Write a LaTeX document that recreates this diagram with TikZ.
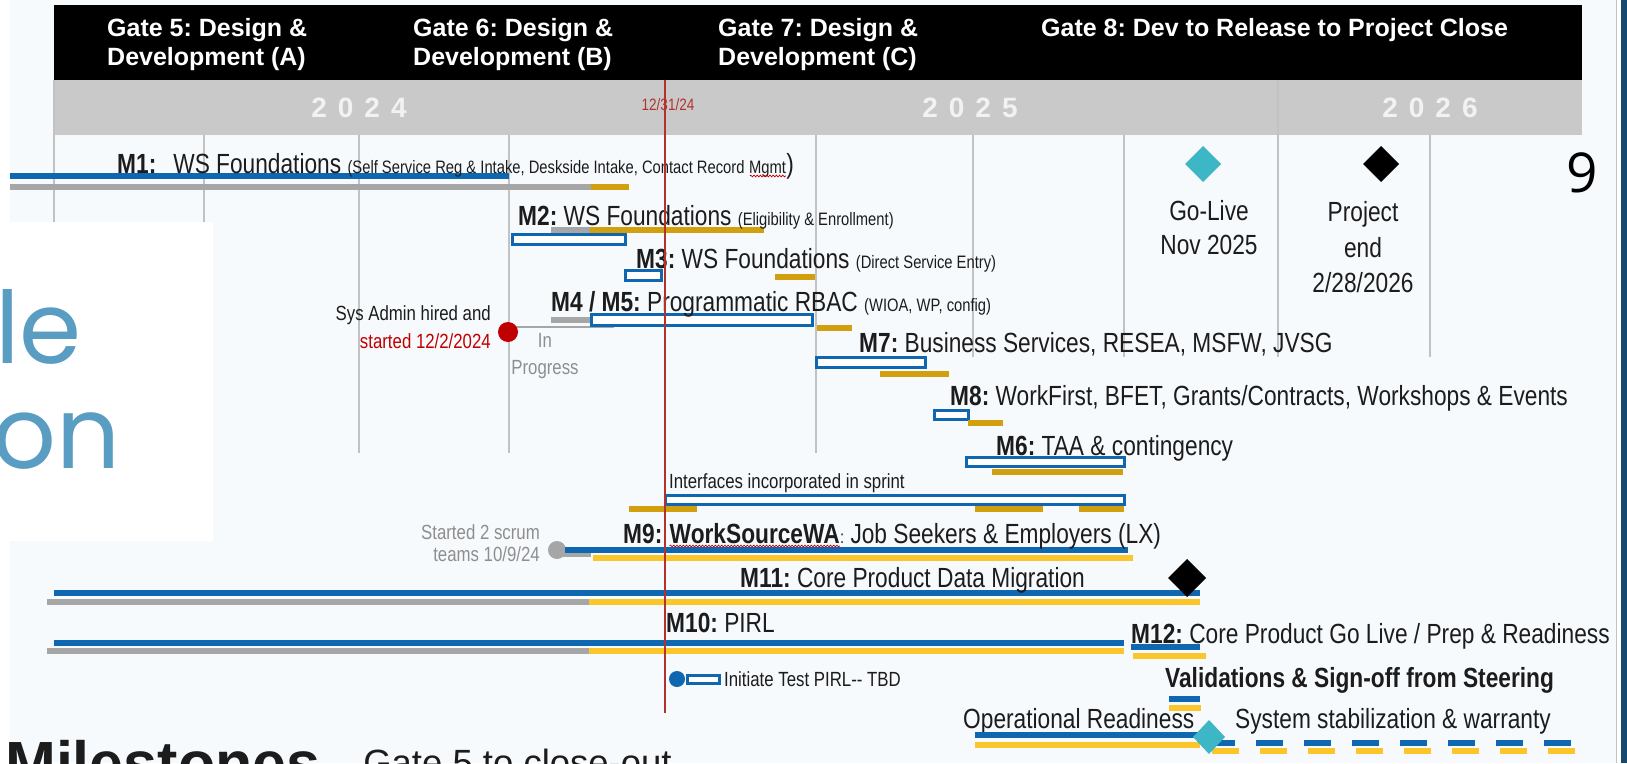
\documentclass[tikz,border=0pt]{standalone}
\usepackage{fontspec}
\setmainfont{Liberation Sans}
\newfontfamily\nar[FakeStretch=0.82]{Liberation Sans}
\newfontfamily\geo{Poppins}
\newfontfamily\osans{Open Sans}
\usetikzlibrary{decorations.pathmorphing}
\newcommand\fsz[1]{\fontsize{#1pt}{#1pt}\selectfont}

\definecolor{pagebg}{HTML}{F7FAFD}
\definecolor{bandgrey}{HTML}{C9C9C9}
\definecolor{gridgrey}{HTML}{C2C2C2}
\definecolor{barblue}{HTML}{0F67B1}
\definecolor{barmustard}{HTML}{D2A00E}
\definecolor{baryellow}{HTML}{FBC52C}
\definecolor{bargrey}{HTML}{A6A6A6}
\definecolor{todayred}{HTML}{B3322B}
\definecolor{dotred}{HTML}{C00000}
\definecolor{golive}{HTML}{3DB7C6}
\definecolor{titleblue}{HTML}{5A9DC3}
\definecolor{navy}{HTML}{17496F}
\definecolor{labelgrey}{HTML}{8E8E8E}
\definecolor{ink}{HTML}{1C1C1C}

\begin{document}
\frenchspacing
\begin{tikzpicture}[x=1pt, y=-1pt,
  bar/.style={line width=5.5pt},
  thickbar/.style={line width=6.5pt},
  box/.style={draw=barblue, line width=3pt, fill=white},
  grid/.style={draw=gridgrey, line width=1.2pt},
  lbl/.style={inner sep=0pt, anchor=base west, text=ink, font=\nar\fsz{27.7}},
  small/.style={inner sep=0pt, text=ink, font=\nar\fsz{20.5}},
  gate/.style={inner sep=0pt, anchor=base west, text=white, font=\bfseries\fsz{25}},
  year/.style={inner sep=0pt, anchor=base, text=white!95!black, font=\bfseries\fsz{28}},
  squig/.style={draw=dotred, line width=0.7pt, decorate,
    decoration={snake, amplitude=0.9pt, segment length=3.2pt}}]

\useasboundingbox (0,0) rectangle (1627,763);
\clip (0,0) rectangle (1627,763);

% slide background and right-hand border
\fill[pagebg] (0,0) rectangle (1616,763);
\fill[white] (0,0) rectangle (10,763);
\fill[white] (1616,0) rectangle (1621,763);
\fill[navy] (1621,0) rectangle (1627,763);
\draw[gridgrey, line width=1pt] (1616,0) -- (1616,763);

% gate header and year band
\fill[black] (54,5) rectangle (1582,80);
\fill[bandgrey] (54,80) rectangle (1582,135);

\node[gate] (g5a) at (107,36) {Gate 5: Design \&};
\node[gate] (g5b) at (107,65) {Development (A)};
\node[gate] (g6a) at (413,36) {Gate 6: Design \&};
\node[gate] (g6b) at (413,65) {Development (B)};
\node[gate] (g7a) at (718,36) {Gate 7: Design \&};
\node[gate] (g7b) at (718,65) {Development (C)};
\node[gate] (g8)  at (1041,36) {Gate 8: Dev to Release to Project Close};

\node[year] (y24) at (359,117) {2\hspace{11pt}0\hspace{11pt}2\hspace{11pt}4};
\node[year] (y25) at (970,117) {2\hspace{11pt}0\hspace{11pt}2\hspace{11pt}5};
\node[year] (y26) at (1430,117) {2\hspace{11pt}0\hspace{11pt}2\hspace{11pt}6};

% month grid
\foreach \x/\a/\b in {54/80/222, 204/135/222, 359/135/453, 509/135/453,
  816/135/453, 973/135/357, 1124/135/357, 1278/80/357, 1430/135/357}
  \draw[grid] (\x,\a) -- (\x,\b);

% slide title box
\fill[white] (0,222) rectangle (213,541);
\node[inner sep=0pt, anchor=base west, text=titleblue, font=\geo\fsz{100}] (t1) at (-5,363) {le};
\node[inner sep=0pt, anchor=base west, text=titleblue, font=\geo\fsz{100}] (t2) at (-8,468) {on};

% M1
\draw[bar, barblue] (10,176) -- (509,176);
\draw[thickbar, bargrey] (10,187) -- (591,187);
\draw[thickbar, barmustard] (591,187) -- (629,187);
\node[lbl] (m1) at (117,173) {{\bfseries M1:}\hspace{17pt}WS Foundations {\fsz{18}(Self Service Reg \& Intake, Deskside Intake, Contact Record}};
\node[lbl, font=\nar\fsz{18}] (m1w) at (m1.base east) {\kern4pt Mgmt};
\node[lbl] (m1c) at (m1w.base east) {)};
\draw[squig] ([xshift=5pt, yshift=-3pt]m1w.base west) -- ([yshift=-3pt]m1w.base east);

% M2
\draw[thickbar, bargrey] (551,230) -- (590,230);
\draw[thickbar, barmustard] (590,230) -- (764,230);
\draw[box] (512,234) rectangle (625,244);
\node[lbl] (m2) at (518,225) {{\bfseries M2:} WS Foundations {\fsz{18}(Eligibility \& Enrollment)}};

% M3
\draw[box] (625,270) rectangle (661,280);
\draw[thickbar, barmustard] (775,277) -- (815,277);
\node[lbl] (m3) at (636,268) {{\bfseries M3:} WS Foundations {\fsz{18}(Direct Service Entry)}};

% M4 / M5
\draw[thickbar, bargrey] (551,320) -- (590,320);
\draw[line width=2.5pt, bargrey] (509,327) -- (614,327);
\draw[box] (591,314) rectangle (812,325);
\draw[thickbar, barmustard] (817,328) -- (852,328);
\fill[dotred] (508,332) circle (10);
\node[lbl] (m45) at (551,311) {{\bfseries M4 / M5:} Programmatic RBAC {\fsz{18}(WIOA, WP, config)}};
\node[small, anchor=base east] (sa1) at (491,320.5) {Sys Admin hired and};
\node[small, anchor=base east, text=dotred] (sa2) at (491,348.5) {started 12/2/2024};
\node[small, anchor=base, text=labelgrey] (ip1) at (545,347.5) {In};
\node[small, anchor=base, text=labelgrey] (ip2) at (545,374.5) {Progress};

% M7
\draw[box] (816,357) rectangle (925,367);
\draw[thickbar, barmustard] (880,374) -- (949,374);
\node[lbl] (m7) at (859,352) {{\bfseries M7:} Business Services, RESEA, MSFW, JVSG};

% M8
\draw[box] (934,410) rectangle (968,419);
\draw[thickbar, barmustard] (968,423) -- (1003,423);
\node[lbl] (m8) at (950,405) {{\bfseries M8:} WorkFirst, BFET, Grants/Contracts, Workshops \& Events};

% M6
\draw[box] (966,457) rectangle (1124,466);
\draw[thickbar, barmustard] (992,472) -- (1123,472);
\node[lbl] (m6) at (996,455) {{\bfseries M6:} TAA \& contingency};

% interfaces
\draw[box] (665,495) rectangle (1124,504);
\draw[thickbar, barmustard] (629,509) -- (697,509);
\draw[thickbar, barmustard] (975,509) -- (1043,509);
\draw[thickbar, barmustard] (1079,509) -- (1124,509);
\node[small, anchor=base west] (itf) at (669,488.5) {Interfaces incorporated in sprint};

% M9
\draw[thickbar, bargrey] (557,554) -- (591,554);
\fill[bargrey] (557,550) circle (9);
\draw[bar, barblue] (565,550) -- (1128,550);
\draw[bar, baryellow] (593,558) -- (1133,558);
\node[small, anchor=base east, text=labelgrey] (sc1) at (540,539.5) {Started 2 scrum};
\node[small, anchor=base east, text=labelgrey] (sc2) at (540,561.5) {teams 10/9/24};
\node[lbl] (m9a) at (623,543) {\bfseries M9:};
\node[lbl, font=\nar\bfseries\fsz{27.7}] (m9b) at ([xshift=7pt]m9a.base east) {WorkSourceWA};
\node[lbl] (m9c) at (m9b.base east) {{\fsz{18}:} Job Seekers \& Employers (LX)};
\draw[squig] ([yshift=-3pt]m9b.base west) -- ([yshift=-3pt]m9b.base east);

% M11
\draw[bar, barblue] (54,593) -- (1200,593);
\draw[thickbar, bargrey] (47,602) -- (589,602);
\draw[thickbar, baryellow] (589,602) -- (1200,602);
\fill[black] (1187,559) -- (1206,578) -- (1187,597) -- (1168,578) -- cycle;
\node[lbl] (m11) at (740,587) {{\bfseries M11:} Core Product Data Migration};

% M10
\draw[bar, barblue] (54,643) -- (1124,643);
\draw[thickbar, bargrey] (47,651) -- (589,651);
\draw[thickbar, baryellow] (589,651) -- (1124,651);
\node[lbl] (m10) at (666,632) {{\bfseries M10:} PIRL};

% M12
\draw[bar, barblue] (1131,647) -- (1200,647);
\draw[thickbar, baryellow] (1133,656) -- (1206,656);
\node[lbl] (m12) at (1131,643) {{\bfseries M12:} Core Product Go Live / Prep \& Readiness};

% PIRL test
\fill[barblue] (677,679) circle (8);
\draw[box] (687,675) rectangle (719,683);
\node[small, anchor=base west] (pirl) at (724,686.5) {Initiate Test PIRL-- TBD};

% validations and readiness
\node[lbl, font=\nar\bfseries\fsz{27.7}] (val) at (1165,687) {Validations \& Sign-off from Steering};
\draw[bar, barblue] (1169,699) -- (1200,699);
\draw[thickbar, baryellow] (1169,708) -- (1201,708);
\node[lbl] (opr) at (963,728) {Operational Readiness};
\node[lbl] (sys) at (1235,728) {System stabilization \& warranty};
\draw[bar, barblue] (975,735) -- (1200,735);
\draw[thickbar, baryellow] (975,745) -- (1200,745);
\draw[bar, barblue, dash pattern=on 27pt off 21pt] (1208,743) -- (1577,743);
\draw[thickbar, baryellow, dash pattern=on 27pt off 21pt] (1212,751) -- (1581,751);
\fill[golive] (1209,720) -- (1225,737) -- (1209,754) -- (1193,737) -- cycle;

% key dates
\fill[golive] (1203,146) -- (1221,164) -- (1203,182) -- (1185,164) -- cycle;
\fill[black] (1381,146) -- (1399,164) -- (1381,182) -- (1363,164) -- cycle;
\node[lbl, anchor=base] (gl1) at (1209,220) {Go-Live};
\node[lbl, anchor=base] (gl2) at (1209,254) {Nov 2025};
\node[lbl, anchor=base] (pe1) at (1363,221) {Project};
\node[lbl, anchor=base] (pe2) at (1363,257) {end};
\node[lbl, anchor=base] (pe3) at (1363,292) {2/28/2026};

% today marker
\draw[todayred, line width=1.6pt] (665,80) -- (665,713);
\node[inner sep=0pt, anchor=base, text=todayred, font=\nar\fsz{16.5}] (today) at (668,110) {12/31/24};

% slide number and footer title
\node[inner sep=0pt, anchor=base, text=black, font=\osans\fsz{55}] (pg) at (1582,192) {9};
\node[inner sep=0pt, anchor=base west, text=ink, font=\bfseries\fsz{61}] (ms) at (5,784) {Milestones};
\node[inner sep=0pt, anchor=base west, text=ink, font=\fsz{36.5}] (ms2) at (330,775) {–\hspace{0.35em}Gate 5 to close-out};
\end{tikzpicture}
\end{document}
